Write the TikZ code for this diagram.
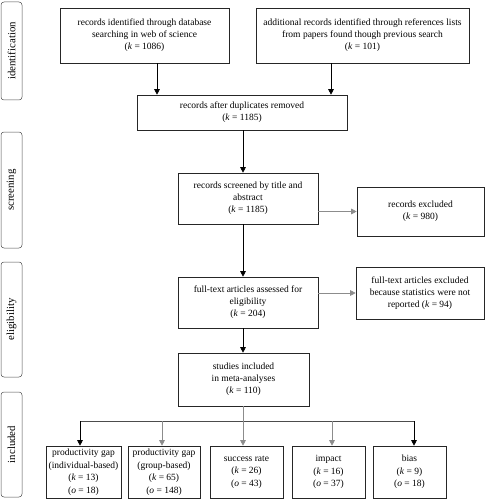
\documentclass[tikz,border=0pt]{standalone}
\usepackage{fontspec}
\setmainfont{Liberation Serif}
\usetikzlibrary{arrows.meta}
\begin{document}
\begin{tikzpicture}[x=1pt,y=-1pt,
  box/.style={draw=black!85,line width=0.6pt,align=center,inner sep=1pt,font=\fontsize{9.5}{12}\selectfont},
  sbox/.style={box,font=\fontsize{9.5}{12.5}\selectfont},
  side/.style={draw=black!70,line width=0.5pt,rounded corners=3pt,rotate=90,minimum height=21pt,inner sep=0pt,font=\fontsize{10.8}{12}\selectfont},
  arr/.style={line width=0.6pt,-{Triangle[length=5.5pt,width=5.5pt]}},
  garr/.style={arr,draw=black!45},
  gline/.style={line width=0.6pt,draw=black!45}]
\useasboundingbox (0,0) rectangle (488,500);
% side labels
\node[side,minimum width=98pt] (s1) at (11.5,51) {identification};
\node[side,minimum width=116pt] (s2) at (11.5,190) {screening};
\node[side,minimum width=115pt] (s3) at (11.5,319.5) {eligibility};
\node[side,minimum width=105pt] (s4) at (11.5,444.5) {included};
% boxes
\node[box,minimum width=169pt,minimum height=55pt] (b1) at (144.5,35.5) {records identified through database\\searching in web of science\\(\textit{k} = 1086)};
\node[box,minimum width=213pt,minimum height=55pt] (b2) at (362.5,35.5) {additional records identified through references lists\\from papers found though previous search\\(\textit{k} = 101)};
\node[box,minimum width=210pt,minimum height=35pt] (b3) at (242,112.5) {records after duplicates removed\\(\textit{k} = 1185)};
\node[box,minimum width=140pt,minimum height=51pt] (b4) at (248,198.5) {records screened by title and\\abstract\\(\textit{k} = 1185)};
\node[box,minimum width=127pt,minimum height=49pt] (e1) at (420.5,211.5) {records excluded\\(\textit{k} = 980)};
\node[box,minimum width=140pt,minimum height=51pt] (b5) at (248,302.5) {full-text articles assessed for\\eligibility\\(\textit{k} = 204)};
\node[box,minimum width=128pt,minimum height=52pt] (e2) at (420,293) {full-text articles excluded\\because statistics were not\\reported (\textit{k} = 94)};
\node[box,minimum width=131pt,minimum height=53pt] (b6) at (243.5,379.5) {studies included\\in meta-analyses\\(\textit{k} = 110)};
\node[sbox,minimum width=75pt,minimum height=52pt] (c1) at (83.5,472) {productivity gap\\(individual-based)\\(\textit{k} = 13)\\(\textit{o} = 18)};
\node[sbox,minimum width=72pt,minimum height=52pt] (c2) at (164,472) {productivity gap\\(group-based)\\(\textit{k} = 65)\\(\textit{o} = 148)};
\node[sbox,minimum width=73pt,minimum height=52pt] (c3) at (246.5,472) {success rate\\(\textit{k} = 26)\\(\textit{o} = 43)};
\node[sbox,minimum width=73pt,minimum height=52pt] (c4) at (328.5,472) {impact\\(\textit{k} = 16)\\(\textit{o} = 37)};
\node[sbox,minimum width=73pt,minimum height=52pt] (c5) at (409.5,472) {bias\\(\textit{k} = 9)\\(\textit{o} = 18)};
% column coordinates
\coordinate (x1) at (157,0);
\coordinate (x2) at (331,0);
\coordinate (xm) at (243,0);
\coordinate (br) at (243,421);
\coordinate (q1) at (80,0);
\coordinate (q2) at (162,0);
\coordinate (q4) at (332,0);
\coordinate (q5) at (414,0);
% connectors
\draw[arr] (b1.south -| x1) -- (b3.north -| x1);
\draw[arr] (b2.south -| x2) -- (b3.north -| x2);
\draw[arr] (b3.south -| xm) -- (b4.north -| xm);
\draw[arr] (b4.south -| xm) -- (b5.north -| xm);
\draw[arr] (b5.south -| xm) -- (b6.north -| xm);
\draw[garr] (b4.east |- e1.west) -- (e1.west);
\draw[garr] (b5.east |- e2.west) -- (e2.west);
\draw[gline] (b6.south -| xm) -- (br);
\draw[line width=0.6pt,draw=black!70] (br -| q1) -- (br -| q5);
\draw[arr] (br -| q1) -- (c1.north -| q1);
\draw[garr] (br -| q2) -- (c2.north -| q2);
\draw[garr] (br) -- (c3.north -| xm);
\draw[garr] (br -| q4) -- (c4.north -| q4);
\draw[arr] (br -| q5) -- (c5.north -| q5);
\end{tikzpicture}
\end{document}
